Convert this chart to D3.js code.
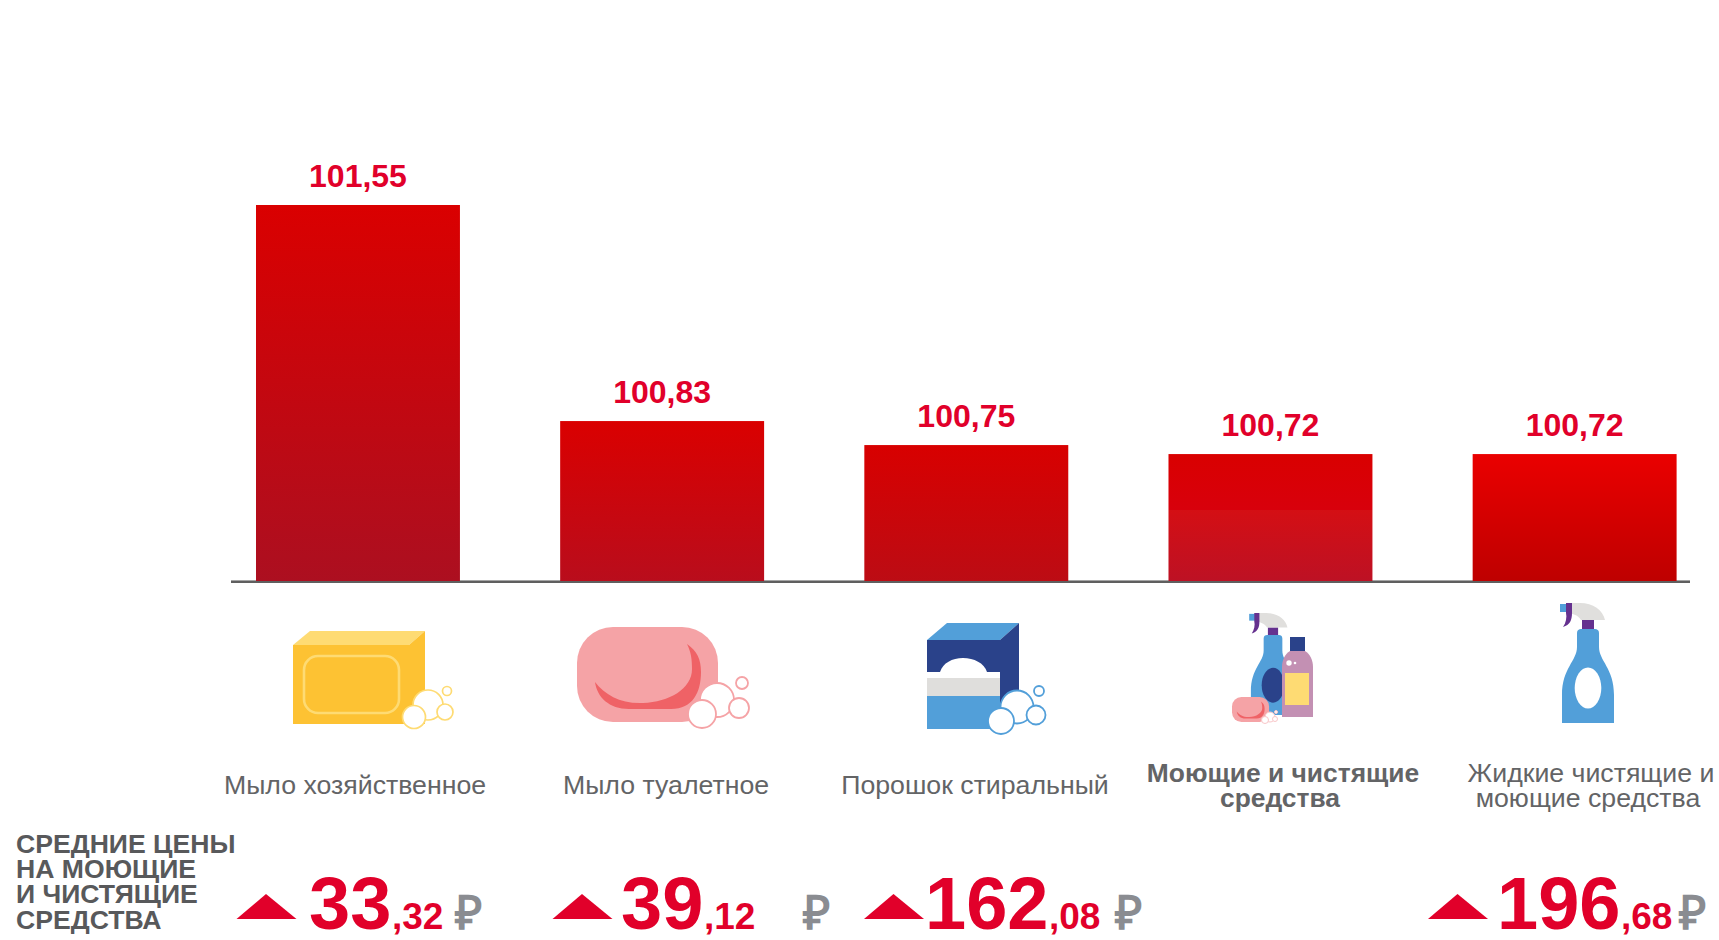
<!DOCTYPE html>
<html>
<head>
<meta charset="utf-8">
<script src="https://cdn.jsdelivr.net/npm/d3@7"></script>
<style>
  html, body { margin: 0; padding: 0; background: #fff; }
  text { font-family: "Liberation Sans", Arial, sans-serif; }
</style>
</head>
<body>
<div id="graph"></div>
<script>
var categories = ["Мыло хозяйственное", "Мыло туалетное", "Порошок стиральный", "Моющие и чистящие средства", "Жидкие чистящие и моющие средства"];
var values = [101.55, 100.83, 100.75, 100.72, 100.72];
var valueLabels = ["101,55", "100,83", "100,75", "100,72", "100,72"];
var labelLines = [["Мыло хозяйственное"], ["Мыло туалетное"], ["Порошок стиральный"], ["Моющие и чистящие", "средства"], ["Жидкие чистящие и", "моющие средства"]];
var priceWhole = ["33", "39", "162", null, "196"];
var priceCents = [",32", ",12", ",08", null, ",68"];
var headerLines = ["СРЕДНИЕ ЦЕНЫ", "НА МОЮЩИЕ", "И ЧИСТЯЩИЕ", "СРЕДСТВА"];

var width = 1719, height = 940;
var baseline = 581;

var x = d3.scaleBand().domain(categories).range([256, 1676.6]).paddingInner(0.3295);
var y = d3.scaleLinear().domain([100.297, 101.55]).range([baseline, 205]);

// layout of the text under the bars, by category index
var labelCenter = [355, 666, 975, 1283, 1591];
var triangleX = [236.5, 552.5, 864, null, 1428];
var wholeX = [309, 621, 925, null, 1497];
var centsX = [392, 704, 1049, null, 1621];
var rubleX = [455, 803, 1115, null, 1679];

var gradStops = [
  [[0, "#da0000"], [1, "#ac0f20"]],
  [[0, "#da0000"], [1, "#b90d1c"]],
  [[0, "#d80000"], [1, "#bc0c14"]],
  [[0, "#d90000"], [0.44, "#d8000c"], [0.44, "#d40f14"], [1, "#bd1124"]],
  [[0, "#ea0000"], [1, "#be0000"]]
];

var red = "#e1002a", grey = "#58595b";

var svg = d3.select("#graph").append("svg")
  .attr("width", width)
  .attr("height", height)
  .style("display", "block");

var defs = svg.append("defs");
gradStops.forEach(function(stops, i) {
  var g = defs.append("linearGradient").attr("id", "bar" + i)
    .attr("x1", 0).attr("y1", 0).attr("x2", 0).attr("y2", 1);
  stops.forEach(function(s) {
    g.append("stop").attr("offset", s[0]).attr("stop-color", s[1]);
  });
});

// axis line, light edge goes under the bars
svg.append("rect").attr("x", 231).attr("y", 580).attr("width", 1459).attr("height", 1).attr("fill", "#a5a5a5");

svg.selectAll(".bar")
  .data(values)
  .enter().append("rect")
  .attr("class", "bar")
  .attr("x", function(d, i) { return x(categories[i]); })
  .attr("y", function(d) { return y(d); })
  .attr("width", x.bandwidth())
  .attr("height", function(d) { return baseline - y(d); })
  .attr("fill", function(d, i) { return "url(#bar" + i + ")"; });

svg.append("rect").attr("x", 231).attr("y", 581).attr("width", 1459).attr("height", 2).attr("fill", "#5f5f5f");

svg.selectAll(".value")
  .data(values)
  .enter().append("text")
  .attr("class", "value")
  .attr("x", function(d, i) { return x(categories[i]) + x.bandwidth() / 2; })
  .attr("y", function(d) { return y(d) - 18; })
  .attr("text-anchor", "middle")
  .attr("font-size", 32)
  .attr("font-weight", "bold")
  .attr("fill", red)
  .text(function(d, i) { return valueLabels[i]; });

// category labels, second lines sit a little to the left
labelLines.forEach(function(lines, i) {
  var first = lines.length == 1 ? 793.5 : 781.5;
  lines.forEach(function(l, k) {
    svg.append("text")
      .attr("x", labelCenter[i] - k * 3)
      .attr("y", first + k * 25)
      .attr("text-anchor", "middle")
      .attr("font-size", i == 3 ? 26.4 : 26.7)
      .attr("font-weight", i == 3 ? "bold" : "normal")
      .attr("fill", "#636466")
      .text(l);
  });
});

// header on the left
headerLines.forEach(function(l, k) {
  svg.append("text")
    .attr("x", 16)
    .attr("y", 852.5 + k * 25.4)
    .attr("font-size", 26.6)
    .attr("font-weight", "bold")
    .attr("fill", grey)
    .text(l);
});

// prices
priceWhole.forEach(function(p, i) {
  if (p == null) return;
  var t = triangleX[i];
  svg.append("path")
    .attr("d", "M" + t + ",919L" + (t + 29.5) + ",894L" + (t + 60) + ",919Z")
    .attr("fill", red);
  svg.append("text").attr("x", wholeX[i]).attr("y", 928.5)
    .attr("font-size", 74).attr("font-weight", "bold").attr("fill", red).text(p);
  svg.append("text").attr("x", centsX[i]).attr("y", 928.5)
    .attr("font-size", 37).attr("font-weight", "bold").attr("fill", red).text(priceCents[i]);
  svg.append("text").attr("x", rubleX[i]).attr("y", 929)
    .attr("font-size", 47).attr("font-weight", "bold").attr("fill", "#8a8c91").text("₽");
});

// icons
function bubbles(g, list, stroke, sw) {
  list.forEach(function(b) {
    g.append("circle").attr("cx", b[0]).attr("cy", b[1]).attr("r", b[2])
      .attr("fill", "#fff").attr("stroke", stroke).attr("stroke-width", sw);
  });
}

function barSoap() {
  var g = svg.append("g");
  g.append("path").attr("d", "M293,645L310,631H425L409,645Z").attr("fill", "#fedb73");
  g.append("path").attr("d", "M409,645L425,631V724H409Z").attr("fill", "#fdc233");
  g.append("rect").attr("x", 293).attr("y", 645).attr("width", 116).attr("height", 79).attr("fill", "#fdc233");
  g.append("rect").attr("x", 304).attr("y", 656).attr("width", 95).attr("height", 57).attr("rx", 14)
    .attr("fill", "none").attr("stroke", "#fedb73").attr("stroke-width", 2.6);
  bubbles(g, [[428, 705, 15], [447, 691, 4.5], [445, 712, 8], [414, 717, 11.5]], "#fedb73", 1.7);
}

function pinkSoap(tx, ty, s) {
  var g = svg.append("g").attr("transform", "translate(" + tx + "," + ty + ") scale(" + s + ")");
  g.append("rect").attr("x", 0).attr("y", 0).attr("width", 141).attr("height", 95).attr("rx", 36).attr("fill", "#f5a3a6");
  g.append("path")
    .attr("d", "M110,17C120,24 124,32 124,45C124,65 116,82 94,82H52C32,82 20,70 18,55C28,68 44,77 66,76C92,75 115,62 115,42C115,32 114,25 110,17Z")
    .attr("fill", "#ef6266");
  return g;
}

function boxIcon() {
  var g = svg.append("g");
  g.append("path").attr("d", "M927,640L947,623H1019L1000,640Z").attr("fill", "#529fd9");
  g.append("path").attr("d", "M1000,640L1019,623V712L1000,722Z").attr("fill", "#2a428a");
  g.append("rect").attr("x", 927).attr("y", 640).attr("width", 73).attr("height", 32).attr("fill", "#2a428a");
  g.append("path").attr("d", "M940,672C943,663 952,658 963,658C974,658 984,663 987,672Z").attr("fill", "#fff");
  g.append("rect").attr("x", 927).attr("y", 672).attr("width", 73).attr("height", 6).attr("fill", "#fff");
  g.append("rect").attr("x", 927).attr("y", 678).attr("width", 73).attr("height", 18).attr("fill", "#dfdedc");
  g.append("rect").attr("x", 927).attr("y", 696).attr("width", 73).attr("height", 33).attr("fill", "#529fd9");
  bubbles(g, [[1017, 707, 16.5], [1039, 691, 5], [1036, 715, 9.5], [1001, 721, 13]], "#529fd9", 1.8);
}

// spray bottle, origin at the middle of the bottom edge
function spray(tx, ty, s, ovalFill) {
  var g = svg.append("g").attr("transform", "translate(" + tx + "," + ty + ") scale(" + s + ")");
  g.append("rect").attr("x", -6).attr("y", -103).attr("width", 12).attr("height", 10).attr("fill", "#65318f");
  g.append("path").attr("d", "M-22,-120H-8C5,-120 15,-113 17,-103H-7C-10,-108 -16,-110 -22,-110Z").attr("fill", "#e0dfdd");
  g.append("rect").attr("x", -28).attr("y", -119).attr("width", 7).attr("height", 8).attr("fill", "#529fd9");
  g.append("path").attr("d", "M-22,-120H-16V-110C-16,-103 -18,-98 -25,-96C-22,-100 -21,-106 -22,-110Z").attr("fill", "#65318f");
  g.append("path")
    .attr("d", "M-11,-90C-11,-93 -9,-94 -7,-94H7C9,-94 11,-93 11,-90V-76C11,-62 26,-55 26,-28V0H-26V-28C-26,-55 -11,-62 -11,-76Z")
    .attr("fill", "#529fd9");
  g.append("ellipse").attr("cx", 0).attr("cy", -35).attr("rx", 13.3).attr("ry", 20.5).attr("fill", ovalFill);
}

function bottle() {
  var g = svg.append("g");
  g.append("rect").attr("x", 1290).attr("y", 637).attr("width", 15).attr("height", 14).attr("fill", "#2a428a");
  g.append("path").attr("d", "M1290,651H1305C1310,654 1313,660 1313,667V717H1282V667C1282,660 1285,654 1290,651Z").attr("fill", "#c390b3");
  g.append("rect").attr("x", 1285).attr("y", 673).attr("width", 24).attr("height", 32).attr("fill", "#fedb73");
  g.append("circle").attr("cx", 1289).attr("cy", 663).attr("r", 2.7).attr("fill", "#fff");
  g.append("circle").attr("cx", 1295).attr("cy", 663).attr("r", 1.3).attr("fill", "#fff");
}

barSoap();
var soap = pinkSoap(577, 627, 1);
bubbles(soap, [[140, 73, 17], [165, 56, 6], [162, 81, 10], [125, 87, 14]], "#f5a3a6", 1.8);
boxIcon();
spray(1273, 715, 0.85, "#2a428a");
bottle();
pinkSoap(1232, 697, 0.263);
bubbles(svg, [[1270, 717, 5], [1276, 712, 1.5], [1275, 719, 2.5], [1265, 720, 3.5]], "#f9c6c8", 1);
spray(1588, 723, 1, "#fff");
</script>
</body>
</html>
